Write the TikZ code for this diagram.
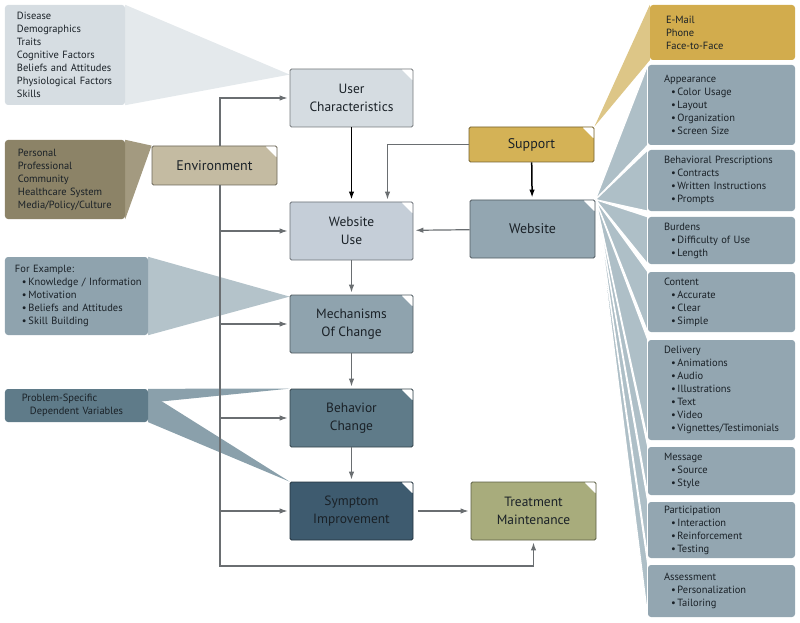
\documentclass[tikz,border=0pt]{standalone}
\usepackage{fontspec}
\setmainfont{PT Sans}
\usetikzlibrary{arrows.meta,calc}
\pgfdeclarelayer{bg}
\pgfsetlayers{bg,main}
\definecolor{ink}{HTML}{1A2127}
\definecolor{wire}{HTML}{6A6E71}
\definecolor{usrfill}{HTML}{D5DCE1}
\definecolor{usefill}{HTML}{C5CED8}
\definecolor{mchfill}{HTML}{8FA3AE}
\definecolor{bhvfill}{HTML}{5F7B89}
\definecolor{symfill}{HTML}{3E5B6F}
\definecolor{trtfill}{HTML}{A8AC7C}
\definecolor{envfill}{HTML}{C4BBA2}
\definecolor{supfill}{HTML}{D4B256}
\definecolor{webfill}{HTML}{93A6B1}
\definecolor{usrnote}{HTML}{D6DDE2}
\definecolor{usrwedge}{HTML}{E4E9EC}
\definecolor{envnote}{HTML}{8C8367}
\definecolor{envwedge}{HTML}{A39A80}
\definecolor{mchwedge}{HTML}{B4C3CA}
\definecolor{prbwedge}{HTML}{8AA0AB}
\definecolor{supnote}{HTML}{D2AC4D}
\definecolor{supwedge}{HTML}{DDC687}
\definecolor{fanfill}{HTML}{AEBFC7}
\newcommand\itm{\hspace*{7bp}\textbullet\,}
\begin{document}
\begin{tikzpicture}[x=1bp,y=-1bp,
    box/.style={fill=#1, draw=#1!55!black, line width=0.8bp, rounded corners=1.5bp,
      minimum width=123bp, minimum height=58bp, align=center, text=ink,
      font=\fontsize{13.5}{18}\selectfont,
      path picture={\fill[white] (path picture bounding box.north east)
        -- ++(-12bp,0bp) -- ++(12bp,-12bp) -- cycle;}},
    note/.style={fill=#1, rounded corners=3bp, align=left, text=ink,
      font=\fontsize{10.5}{13}\selectfont, inner ysep=0bp,
      execute at begin node={\hyphenpenalty=10000\exhyphenpenalty=10000}},
    fan/.style={note=webfill, text width=115bp, inner xsep=16bp},
    conn/.style={draw=wire, line width=1.2bp, shorten >=2bp,
      -{Latex[length=8bp,width=5.5bp]}},
    bold/.style={conn, draw=black, line width=1.5bp}]
  \useasboundingbox (0,0) rectangle (800,623);

  % main chain
  \node[box=usrfill] (usr) at (351.5,98) {User\\Characteristics};
  \node[box=usefill] (use) at (351.5,231) {Website\\Use};
  \node[box=mchfill] (mch) at (351.5,324) {Mechanisms\\Of Change};
  \node[box=bhvfill] (bhv) at (351.5,418) {Behavior\\Change};
  \node[box=symfill] (sym) at (351.5,511) {Symptom\\Improvement};
  \node[box=trtfill, minimum width=125bp] (trt) at (533.5,511) {Treatment\\Maintenance};
  \node[box=envfill, minimum width=125bp, minimum height=39bp,
    font=\fontsize{14}{18}\selectfont] (env) at (214.5,165.5) {Environment};
  \node[box=supfill, minimum width=125bp, minimum height=35bp,
    font=\fontsize{14}{18}\selectfont] (sup) at (531.5,144.5) {Support};
  \node[box=webfill, minimum width=125bp,
    font=\fontsize{14}{18}\selectfont] (web) at (532.5,229) {Website};

  % notes on the left
  \node[note=usrnote, text width=96bp, inner xsep=12bp, minimum height=100bp] (nUsr) at (65,55)
    {Disease\\Demographics\\Traits\\Cognitive~Factors\\Beliefs~and~Attitudes\\Physiological~Factors\\Skills};
  \node[note=envnote, text width=94bp, inner xsep=13bp, minimum height=79bp] (nEnv) at (65,179.5)
    {Personal\\Professional\\Community\\Healthcare~System\\Media/Policy/Culture};
  \node[note=mchfill, text width=123bp, inner xsep=10bp, minimum height=78bp] (nMch) at (76.5,296)
    {For~Example:\\\itm Knowledge~/~Information\\\itm Motivation\\\itm Beliefs~and~Attitudes\\\itm Skill~Building};
  \node[note=bhvfill, text width=109bp, inner xsep=17bp, minimum height=33bp] (nPrb) at (76.5,405.5)
    {Problem-Specific\\\hspace*{8bp}Dependent~Variables};

  % notes on the right
  \node[note=supnote, text width=113bp, inner xsep=16bp, minimum height=55bp] (nSup) at (722.5,32.5)
    {E-Mail\\Phone\\Face-to-Face};
  \node[fan, minimum height=80bp] (nApp) at (721.5,105)
    {Appearance\\\itm Color~Usage\\\itm Layout\\\itm Organization\\\itm Screen~Size};
  \node[fan, minimum height=61bp] (nBhv) at (721.5,180.5)
    {Behavioral~Prescriptions\\\itm Contracts\\\itm Written~Instructions\\\itm Prompts};
  \node[fan, minimum height=47bp] (nBur) at (721.5,240.5)
    {Burdens\\\itm Difficulty~of~Use\\\itm Length};
  \node[fan, minimum height=60bp] (nCon) at (721.5,302)
    {Content\\\itm Accurate\\\itm Clear\\\itm Simple};
  \node[fan, minimum height=100bp] (nDel) at (721.5,390)
    {Delivery\\\itm Animations\\\itm Audio\\\itm Illustrations\\\itm Text\\\itm Video\\\itm Vignettes/Testimonials};
  \node[fan, minimum height=48bp] (nMsg) at (721.5,471)
    {Message\\\itm Source\\\itm Style};
  \node[fan, minimum height=56bp] (nPar) at (721.5,530)
    {Participation\\\itm Interaction\\\itm Reinforcement\\\itm Testing};
  \node[fan, minimum height=52bp] (nAss) at (721.5,591)
    {Assessment\\\itm Personalization\\\itm Tailoring};

  % callout wedges
  \begin{pgfonlayer}{bg}
    \fill[usrwedge] (nUsr.north east) -- ($(usr.north west)+(0,6)$) -- (nUsr.south east) -- cycle;
    \fill[envwedge] (nEnv.north east) -- (env.north west) -- (nEnv.south east) -- cycle;
    \fill[mchwedge] (nMch.north east) -- ($(mch.north west)+(0,2)$) -- (nMch.south east) -- cycle;
    \fill[prbwedge] (nPrb.north east) -- (bhv.north west) -- ($(nPrb.north east)+(0,14)$) -- cycle;
    \fill[prbwedge] ($(nPrb.north east)+(0,4)$) -- (sym.north west) -- (nPrb.south east) -- cycle;
    \fill[supwedge] (sup.north east) -- (nSup.north west) -- (nSup.south west) -- cycle;
    \foreach \n in {nApp,nBhv,nBur,nCon,nDel,nMsg,nPar,nAss}
      \filldraw[fill=fanfill, draw=white, line width=1.2bp]
        (web.north east) -- (\n.north west) -- (\n.south west) -- cycle;
  \end{pgfonlayer}

  % connectors
  \coordinate (bus) at (220,566);
  \draw[conn] (env.north -| bus) |- (usr.west);
  \draw[conn] (env.south -| bus) -- (bus) -| (trt.south);
  \foreach \n in {use,mch,bhv,sym}
    \draw[conn] (\n.west -| bus) -- (\n.west);
  \draw[bold] (usr) -- (use);
  \draw[bold] (sup) -- (web);
  \draw[conn] (sup.west) -| ($(use.north)+(36,0)$);
  \draw[conn] (web) -- (use);
  \draw[conn] (use) -- (mch);
  \draw[conn] (mch) -- (bhv);
  \draw[conn] (bhv) -- (sym);
  \draw[conn, shorten <=5bp] (sym) -- (trt);
\end{tikzpicture}
\end{document}
